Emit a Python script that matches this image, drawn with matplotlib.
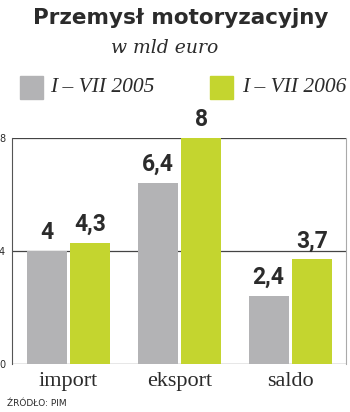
import matplotlib

matplotlib.use("Agg")
import matplotlib.pyplot as plt
import numpy as np
from matplotlib.patches import Rectangle

categories = ["import", "eksport", "saldo"]
series_names = ["I – VII 2005", "I – VII 2006"]
values_2005 = [4.0, 6.4, 2.4]
values_2006 = [4.3, 8.0, 3.7]
value_labels_2005 = ["4", "6,4", "2,4"]
value_labels_2006 = ["4,3", "8", "3,7"]
y_ticks = [0, 4, 8]

GRAY = "#b3b3b5"
GREEN = "#c4d52f"
DARK = "#2b2b2b"

fig = plt.figure(figsize=(3.5, 4.12), dpi=100)
ax = fig.add_axes([12 / 350, 48 / 412, 334 / 350, 226 / 412])

x = np.arange(len(categories))
w = 0.36
off = 0.198
b1 = ax.bar(x - off, values_2005, width=w, color=GRAY, zorder=2)
b2 = ax.bar(x + off, values_2006, width=w, color=GREEN, zorder=2)

label_font = dict(family="Roboto", weight="bold", size=16.5, color=DARK)
for bars, labels in ((b1, value_labels_2005), (b2, value_labels_2006)):
    for bar, lab in zip(bars, labels):
        ax.annotate(lab, (bar.get_x() + bar.get_width() / 2, bar.get_height()),
                    xytext=(0, 5), textcoords="offset points",
                    ha="center", va="bottom", annotation_clip=False, **label_font)

ax.set_xlim(-0.509, 2.5)
ax.set_ylim(0, 8)
for yv in y_ticks:
    ax.axhline(yv, color="#444444", lw=0.9, zorder=1)

ax.set_yticks(y_ticks)
ax.set_yticklabels([str(t) for t in y_ticks], fontsize=7, color=DARK)
ax.tick_params(axis="y", length=0, pad=5)
ax.set_xticks(x)
ax.set_xticklabels(categories, family="Liberation Serif", fontsize=16, color=DARK)
ax.tick_params(axis="x", length=0, pad=6)

ax.spines["top"].set_visible(False)
ax.spines["bottom"].set_visible(False)
ax.spines["left"].set_color("#555555")
ax.spines["right"].set_color("#aaaaaa")
ax.spines["left"].set_linewidth(0.8)
ax.spines["right"].set_linewidth(0.8)

fig.text(0.515, 1 - 18 / 412, "Przemysł motoryzacyjny", ha="center", va="center",
         family="DejaVu Sans", weight="bold", size=15.5, color=DARK)
fig.text(0.47, 1 - 48 / 412, "w mld euro", ha="center", va="center",
         family="DejaVu Serif", style="italic", size=13.5, color=DARK)

# legenda
for (x0, tx), name, color in zip(((20, 50), (210, 242)), series_names, (GRAY, GREEN)):
    fig.patches.append(Rectangle((x0 / 350, 1 - 99 / 412), 23 / 350, 23 / 412,
                                 transform=fig.transFigure, color=color, figure=fig))
    fig.text(tx / 350, 1 - 88 / 412, name, ha="left", va="center",
             family="Liberation Serif", style="italic", size=15.5, color=DARK)

fig.text(7 / 350, 1 - 403 / 412, "ŹRÓDŁO: PIM", ha="left", va="center",
         family="DejaVu Sans", size=6.5, color=DARK)

fig.savefig("out.png", dpi=100)
